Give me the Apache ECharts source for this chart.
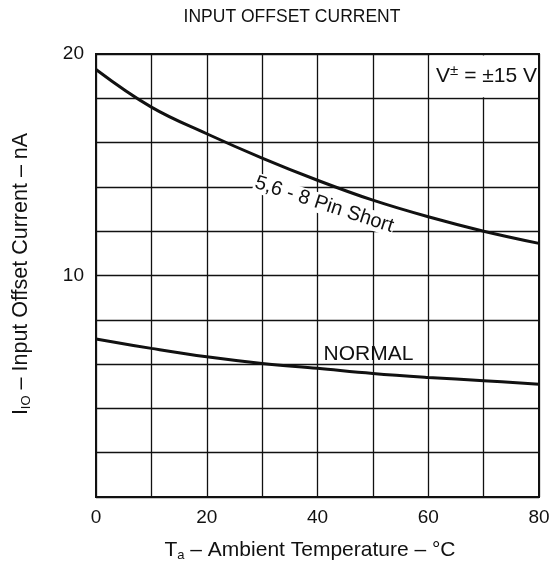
<!DOCTYPE html>
<html><head><meta charset="utf-8">
<script src="https://cdn.jsdelivr.net/npm/echarts@6/dist/echarts.min.js"></script>
<style>html,body{margin:0;padding:0;background:#fff}#c{width:553px;height:563px}</style>
</head><body><div id="c"></div>
<script>
const temps = [0, 10, 20, 30, 40, 50, 60, 70, 80];
const pinShort = [19.3, 17.6, 16.4, 15.3, 14.3, 13.4, 12.65, 12.0, 11.45];
const normal = [7.13, 6.71, 6.33, 6.03, 5.81, 5.58, 5.40, 5.25, 5.09];
const xTickLabels = [0, 20, 40, 60, 80];
const yTickLabels = [10, 20];
const titleText = 'INPUT OFFSET CURRENT';
const pinLabel = '5,6 - 8 Pin Short';
const normalLabel = 'NORMAL';

const FONT = '"Liberation Sans", Arial, Helvetica, sans-serif';
const INK = '#111';
const chart = echarts.init(document.getElementById('c'));

const option = {
  animation: false,
  backgroundColor: '#fff',
  grid: { left: 96, right: 14, top: 54, bottom: 66, show: true, borderColor: INK, borderWidth: 2, backgroundColor: 'transparent' },
  xAxis: {
    type: 'value', min: 0, max: 80, interval: 10,
    axisLine: { show: true, lineStyle: { color: INK, width: 2 } },
    axisTick: { show: false },
    splitLine: { show: true, lineStyle: { color: INK, width: 1.3 } },
    axisLabel: { color: INK, fontSize: 19, fontFamily: FONT, margin: 11,
      formatter: v => xTickLabels.includes(v) ? String(v) : '' }
  },
  yAxis: {
    type: 'value', min: 0, max: 20, interval: 2,
    axisLine: { show: true, lineStyle: { color: INK, width: 2 } },
    axisTick: { show: false },
    splitLine: { show: true, lineStyle: { color: INK, width: 1.3 } },
    axisLabel: { color: INK, fontSize: 19, fontFamily: FONT, margin: 12,
      formatter: v => yTickLabels.includes(v) ? String(v) : '' }
  },
  series: [
    { type: 'line', data: temps.map((t, i) => [t, pinShort[i]]), smooth: 0.4, showSymbol: false,
      lineStyle: { color: INK, width: 3 }, z: 5 },
    { type: 'line', data: temps.map((t, i) => [t, normal[i]]), smooth: 0.4, showSymbol: false,
      lineStyle: { color: INK, width: 3 }, z: 5 }
  ]
};
chart.setOption(option);

const P = (x, y) => chart.convertToPixel({ gridIndex: 0 }, [x, y]);
const a = P(60, 20), b = P(80, 18);
const pinPos = P(41.2, 13.2);
const normPos = P(49.2, 6.46);
const vPos = P(80, 19.0);

chart.setOption({
  graphic: [
    { type: 'text', z: 10, x: 292, y: 17,
      style: { text: titleText, align: 'center', verticalAlign: 'middle', fill: INK, font: '17.5px ' + FONT } },
    { type: 'rect', z: 3, shape: { x: a[0] + 1.5, y: a[1] + 1.5, width: b[0] - a[0] - 3, height: b[1] - a[1] - 2.5 },
      style: { fill: '#fff' } },
    { type: 'text', z: 10, x: vPos[0] - 2, y: vPos[1],
      style: { text: 'V{sup|±} = ±15 V', align: 'right', verticalAlign: 'middle', fill: INK,
        font: '21px ' + FONT, rich: { sup: { fontSize: 15, fontFamily: FONT, verticalAlign: 'top', lineHeight: 26 } } } },
    { type: 'text', z: 3, x: pinPos[0], y: pinPos[1], rotation: -18 * Math.PI / 180,
      style: { text: pinLabel, align: 'center', verticalAlign: 'middle', fill: INK, font: '20px ' + FONT,
        backgroundColor: '#fff', padding: [0, 1] } },
    { type: 'text', z: 3, x: normPos[0], y: normPos[1],
      style: { text: normalLabel, align: 'center', verticalAlign: 'middle', fill: INK, font: '21px ' + FONT } },
    { type: 'text', z: 10, x: 21, y: 274, rotation: Math.PI / 2,
      style: { text: 'I{sub|IO} – Input Offset Current – nA', align: 'center', verticalAlign: 'middle', fill: INK,
        font: '21.5px ' + FONT, rich: { sub: { fontSize: 13, fontFamily: FONT, verticalAlign: 'bottom', lineHeight: 24 } } } },
    { type: 'text', z: 10, x: 310, y: 550,
      style: { text: 'T{sub|a} – Ambient Temperature – °C', align: 'center', verticalAlign: 'middle', fill: INK,
        font: '21px ' + FONT, rich: { sub: { fontSize: 13, fontFamily: FONT, verticalAlign: 'bottom', lineHeight: 24 } } } }
  ]
});
</script></body></html>
